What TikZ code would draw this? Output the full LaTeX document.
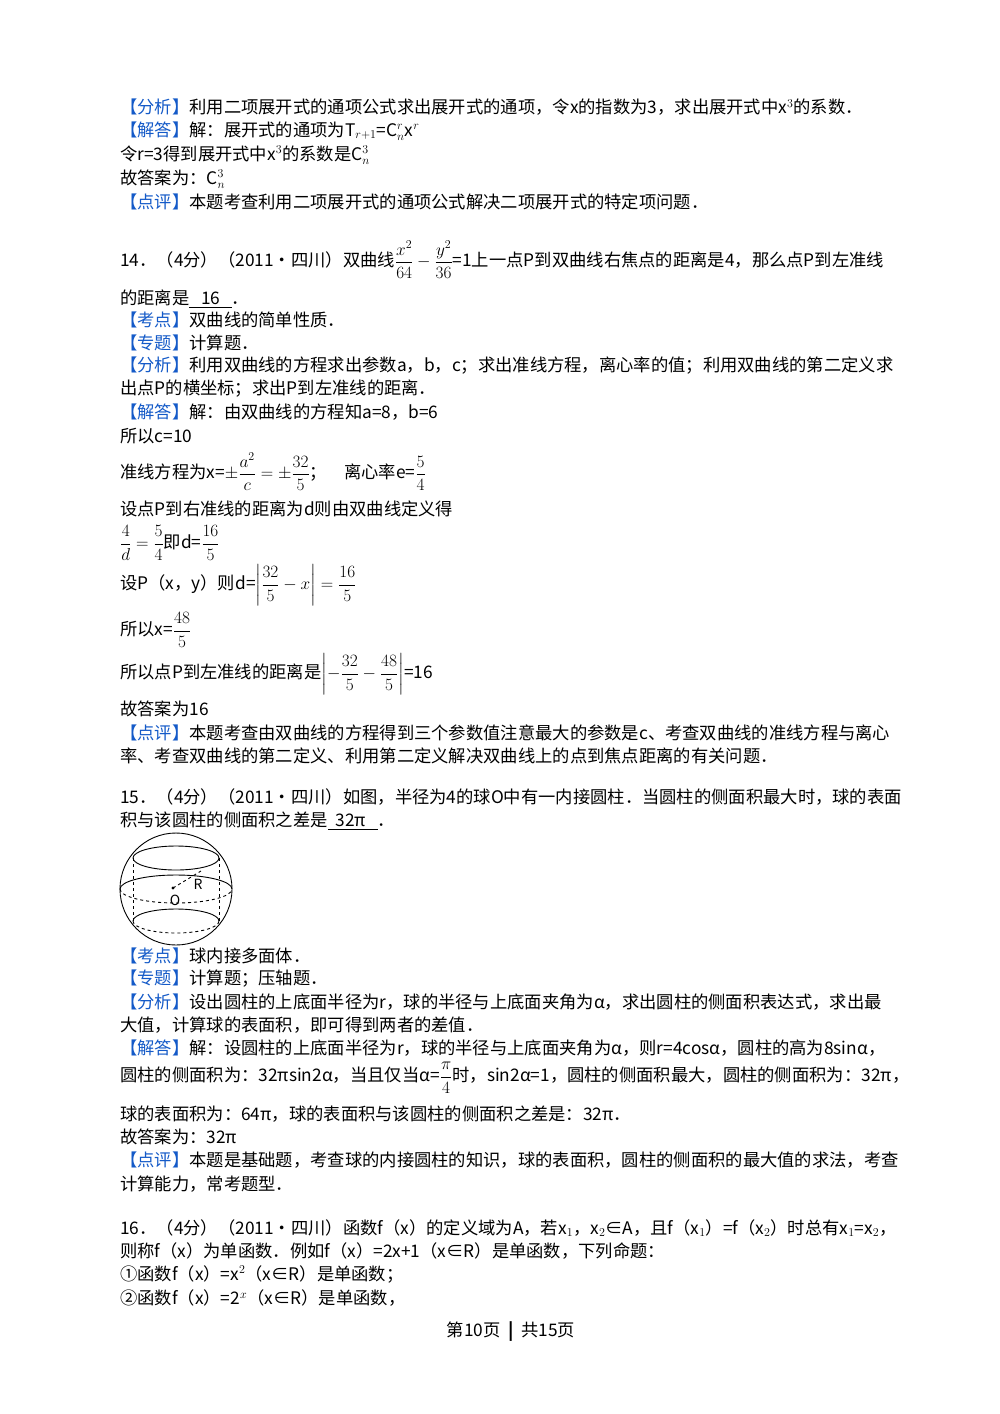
\documentclass[tikz,border=0pt]{standalone}
\usepackage{amsmath}
\usepackage{fontspec}
\setmainfont{Noto Sans CJK SC}
\definecolor{kb}{RGB}{20,90,200}
\newcommand{\tg}[1]{\textcolor{kb}{【#1】}}
\begin{document}
\begin{tikzpicture}[x=1pt,y=-1pt,
 txt/.style={anchor=west,inner sep=0pt,font=\fontsize{17.3pt}{20pt}\selectfont}]
\useasboundingbox[fill=white] (0,0) rectangle (1000,1414);
\node[txt] (a1) at (120,107) {\tg{分析}利用二项展开式的通项公式求出展开式的通项，令x的指数为3，求出展开式中x$^3$的系数．};
\node[txt] (a2) at (120,131) {\tg{解答}解：展开式的通项为T$_{r+1}$=C$_n^r$x$^r$};
\node[txt] (a3) at (120,155) {令r=3得到展开式中x$^3$的系数是C$_n^3$};
\node[txt] (a4) at (120,179) {故答案为：C$_n^3$};
\node[txt] (a5) at (120,202) {\tg{点评}本题考查利用二项展开式的通项公式解决二项展开式的特定项问题．};
\node[txt] (b1) at (120,260) {14．（4分）（2011•四川）双曲线$\dfrac{x^2}{64}-\dfrac{y^2}{36}$=1上一点P到双曲线右焦点的距离是4，那么点P到左准线};
\node[txt] (b2) at (120,299) {的距离是\underline{\ \ \ 16\ \ \ }．};
\node[txt] (b3) at (120,320) {\tg{考点}双曲线的简单性质．};
\node[txt] (b4) at (120,343) {\tg{专题}计算题．};
\node[txt] (b5) at (120,366) {\tg{分析}利用双曲线的方程求出参数a，b，c；求出准线方程，离心率的值；利用双曲线的第二定义求};
\node[txt] (b6) at (120,389) {出点P的横坐标；求出P到左准线的距离．};
\node[txt] (b7) at (120,412) {\tg{解答}解：由双曲线的方程知a=8，b=6};
\node[txt] (b8) at (120,436) {所以c=10};
\node[txt] (b9) at (120,472) {准线方程为x=$\pm\dfrac{a^2}{c}=\pm\dfrac{32}{5}$；\quad 离心率e=$\dfrac{5}{4}$};
\node[txt] (b10) at (120,509) {设点P到右准线的距离为d则由双曲线定义得};
\node[txt] (b11) at (120,543) {$\dfrac{4}{d}=\dfrac{5}{4}$即d=$\dfrac{16}{5}$};
\node[txt] (b12) at (120,585) {设P（x，y）则d=$\left|\dfrac{32}{5}-x\right|=\dfrac{16}{5}$};
\node[txt] (b13) at (120,630) {所以x=$\dfrac{48}{5}$};
\node[txt] (b14) at (120,674) {所以点P到左准线的距离是$\left|-\dfrac{32}{5}-\dfrac{48}{5}\right|$=16};
\node[txt] (b15) at (120,709) {故答案为16};
\node[txt] (b16) at (120,733) {\tg{点评}本题考查由双曲线的方程得到三个参数值注意最大的参数是c、考查双曲线的准线方程与离心};
\node[txt] (b17) at (120,756) {率、考查双曲线的第二定义、利用第二定义解决双曲线上的点到焦点距离的有关问题．};
\node[txt] (c1) at (120,797) {15．（4分）（2011•四川）如图，半径为4的球O中有一内接圆柱．当圆柱的侧面积最大时，球的表面};
\node[txt] (c2) at (120,821) {积与该圆柱的侧面积之差是\underline{\ \ 32π\ \ \ }．};
% sphere
\begin{scope}[line width=0.9pt]
\draw (176,889) circle[radius=56];
\draw (176,858) ellipse[x radius=43,y radius=12];
\draw[dashed] (120,889) arc[start angle=180,end angle=0,x radius=56,y radius=14];
\draw (120,889) arc[start angle=180,end angle=360,x radius=56,y radius=14];
\draw[dashed] (133,921) arc[start angle=180,end angle=0,x radius=43,y radius=12];
\draw (133,921) arc[start angle=180,end angle=360,x radius=43,y radius=12];
\draw[dashed] (133,858) -- (133,921);
\draw[dashed] (219,858) -- (219,921);
\coordinate (o) at (173,888);
\coordinate (rr) at (201,871);
\fill (o) circle[radius=1.6];
\draw[dashed] (o) -- (rr);
\node[font=\itshape\fontsize{14pt}{14pt}\selectfont] (ol) at (175,900) {O};
\node[font=\itshape\fontsize{14pt}{14pt}\selectfont] (rl) at (198,884) {R};
\end{scope}
\node[txt] (c3) at (120,956) {\tg{考点}球内接多面体．};
\node[txt] (c4) at (120,979) {\tg{专题}计算题；压轴题．};
\node[txt] (c5) at (120,1002) {\tg{分析}设出圆柱的上底面半径为r，球的半径与上底面夹角为α，求出圆柱的侧面积表达式，求出最};
\node[txt] (c6) at (120,1025) {大值，计算球的表面积，即可得到两者的差值．};
\node[txt] (c7) at (120,1048) {\tg{解答}解：设圆柱的上底面半径为r，球的半径与上底面夹角为α，则r=4cosα，圆柱的高为8sinα，};
\node[txt] (c8) at (120,1078) {圆柱的侧面积为：32πsin2α，当且仅当α=$\dfrac{\pi}{4}$时，sin2α=1，圆柱的侧面积最大，圆柱的侧面积为：32π，};
\node[txt] (c9) at (120,1114) {球的表面积为：64π，球的表面积与该圆柱的侧面积之差是：32π．};
\node[txt] (c10) at (120,1137) {故答案为：32π};
\node[txt] (c11) at (120,1160) {\tg{点评}本题是基础题，考查球的内接圆柱的知识，球的表面积，圆柱的侧面积的最大值的求法，考查};
\node[txt] (c12) at (120,1184) {计算能力，常考题型．};
\node[txt] (d1) at (120,1228) {16．（4分）（2011•四川）函数f（x）的定义域为A，若x$_1$，x$_2$∈A，且f（x$_1$）=f（x$_2$）时总有x$_1$=x$_2$，};
\node[txt] (d2) at (120,1251) {则称f（x）为单函数．例如f（x）=2x+1（x∈R）是单函数，下列命题：};
\node[txt] (d3) at (120,1274) {①函数f（x）=x$^2$（x∈R）是单函数；};
\node[txt] (d4) at (120,1298) {②函数f（x）=2$^x$（x∈R）是单函数，};
\node[txt,anchor=center] (ft) at (511,1332) {第10页\ \ \textbf{|}\ \ 共15页};
\end{tikzpicture}
\end{document}
